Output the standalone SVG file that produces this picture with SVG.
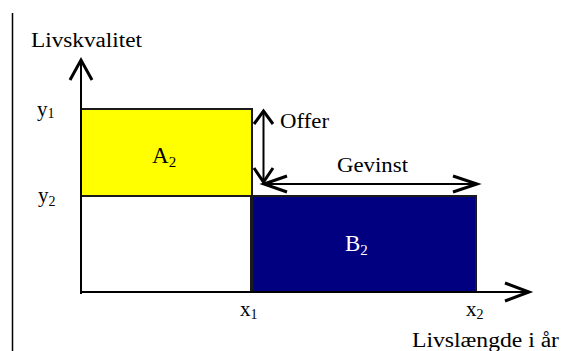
<svg xmlns="http://www.w3.org/2000/svg" width="570" height="351" viewBox="0 0 570 351">
<style>
text{font-family:"Liberation Serif","Times New Roman",serif;fill:#000}
.lbl{font-size:20px}
.big{font-size:23px}
.var{font-size:21px}
.box{stroke:#1a1a1a;stroke-width:2}
.ax{stroke:#000;stroke-width:2;fill:none}
.head{stroke:#000;stroke-width:3;fill:none;stroke-linecap:butt;stroke-linejoin:miter}
.thin{stroke:#000;stroke-width:2;fill:none}
</style>
<rect width="570" height="351" fill="#fff"/>
<line x1="12.5" y1="13" x2="12.5" y2="351" stroke="#000" stroke-width="1.5"/>
<g id="A2">
<rect class="box" x="81" y="109" width="171" height="87" fill="#ffff00"/>
<text class="big" x="152" y="163">A<tspan font-size="15" dy="4">2</tspan></text>
</g>
<g id="empty">
<rect class="box" x="81" y="196" width="170" height="96" fill="#fff"/>
</g>
<g id="B2">
<rect class="box" x="252.5" y="196" width="223.5" height="96" fill="#000080"/>
<text class="big" x="345" y="251" style="fill:#fff">B<tspan font-size="15" dy="4">2</tspan></text>
</g>
<g id="axes">
<line class="ax" x1="81" y1="294" x2="81" y2="61"/>
<polyline class="head" points="70,80 81,60 92,80"/>
<line class="ax" x1="80" y1="292" x2="528" y2="292"/>
<polyline class="head" points="505,283 529,292 505,301"/>
</g>
<g id="connectors">
<line class="thin" x1="263.5" y1="112" x2="263.5" y2="182"/>
<polyline class="head" points="254,124 263.5,111 273,124"/>
<polyline class="head" points="254,168 263.5,182 273,168"/>
<line class="thin" x1="265" y1="184" x2="476" y2="184"/>
<polyline class="head" points="287,176 264,184 287,192"/>
<polyline class="head" points="453,176 477,184 453,192"/>
</g>
<g id="labels">
<text class="lbl" x="31" y="47" textLength="111" lengthAdjust="spacingAndGlyphs">Livskvalitet</text>
<text class="lbl" x="412" y="347" textLength="147" lengthAdjust="spacingAndGlyphs">Livslængde i år</text>
<text class="lbl" x="280" y="128" textLength="49" lengthAdjust="spacingAndGlyphs">Offer</text>
<text class="lbl" x="337" y="172" textLength="71" lengthAdjust="spacingAndGlyphs">Gevinst</text>
<text class="var" x="37" y="116">y<tspan font-size="14" dy="2">1</tspan></text>
<text class="var" x="38" y="202">y<tspan font-size="14" dy="4">2</tspan></text>
<text class="var" x="240" y="316">x<tspan font-size="14" dy="3">1</tspan></text>
<text class="var" x="466" y="316">x<tspan font-size="14" dy="3">2</tspan></text>
</g>
</svg>
